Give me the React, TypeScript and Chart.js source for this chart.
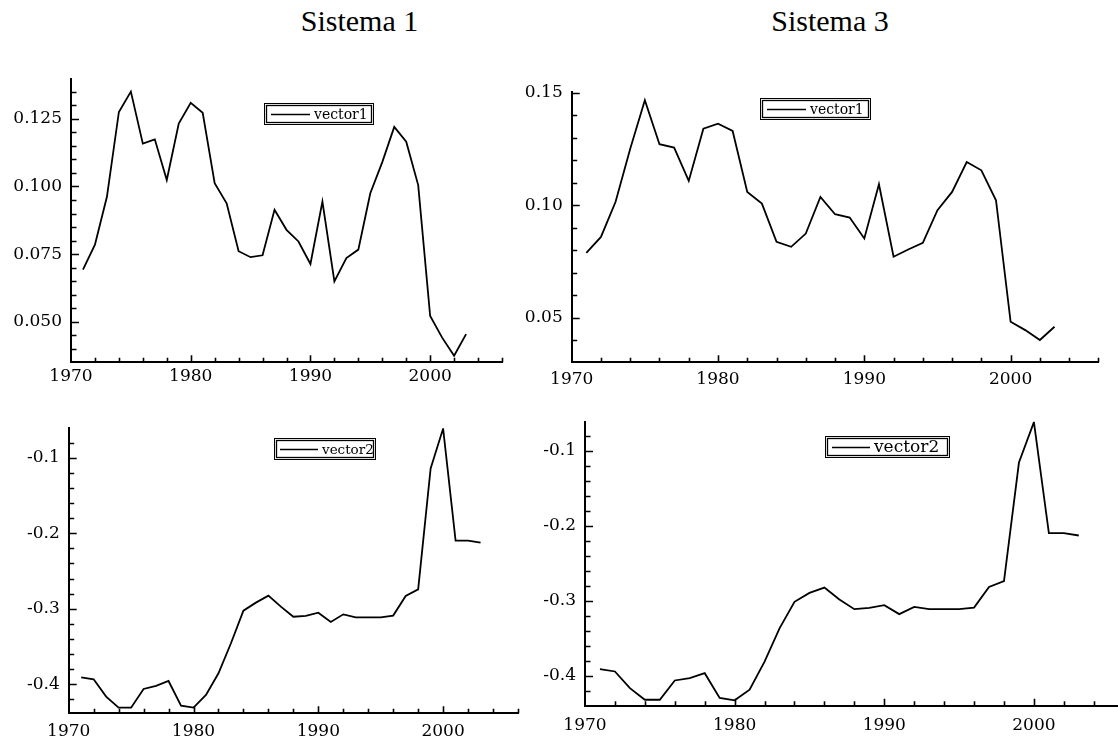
import React, { useEffect, useRef } from "react";
import { Chart, registerables } from "chart.js";

Chart.register(...registerables);

// ---------------- data ----------------
const years = [
  1971, 1972, 1973, 1974, 1975, 1976, 1977, 1978, 1979, 1980, 1981,
  1982, 1983, 1984, 1985, 1986, 1987, 1988, 1989, 1990, 1991, 1992,
  1993, 1994, 1995, 1996, 1997, 1998, 1999, 2000, 2001, 2002, 2003,
];

const sistema1Vector1 = [
  0.0693, 0.0785, 0.0962, 0.1275, 0.135, 0.1158, 0.1174, 0.1024, 0.1232, 0.1309, 0.1272,
  0.1012, 0.0938, 0.0761, 0.0739, 0.0746, 0.0914, 0.084, 0.0797, 0.0714, 0.0944, 0.065,
  0.0736, 0.0767, 0.0975, 0.109, 0.122, 0.1165, 0.1005, 0.0522, 0.0442, 0.0375, 0.0455,
];

const sistema3Vector1 = [
  0.0788, 0.0859, 0.1015, 0.1251, 0.1466, 0.1271, 0.1256, 0.1108, 0.134, 0.1362, 0.133,
  0.1059, 0.1007, 0.0837, 0.0815, 0.0874, 0.1037, 0.096, 0.0945, 0.0852, 0.1093, 0.0771,
  0.0803, 0.0833, 0.0978, 0.1059, 0.1192, 0.1155, 0.1022, 0.0482, 0.0445, 0.0401, 0.046,
];

const sistema1Vector2 = [
  -0.3907, -0.3934, -0.4163, -0.4309, -0.4309, -0.4062, -0.4022, -0.3956, -0.4282, -0.4309, -0.4141,
  -0.3854, -0.3457, -0.3025, -0.2919, -0.2827, -0.2972, -0.3106, -0.3095, -0.3052, -0.3175, -0.3074,
  -0.3113, -0.3113, -0.3113, -0.309, -0.2831, -0.2743, -0.1142, -0.0615, -0.2099, -0.2099, -0.2125,
];

const sistema3Vector2 = [
  -0.3912, -0.3942, -0.4164, -0.4319, -0.4319, -0.4062, -0.4031, -0.3965, -0.4296, -0.4327, -0.4186,
  -0.381, -0.3367, -0.3013, -0.2894, -0.2823, -0.2982, -0.3111, -0.3093, -0.3058, -0.3177, -0.308,
  -0.3111, -0.3111, -0.3111, -0.309, -0.2814, -0.2735, -0.1155, -0.0615, -0.2097, -0.2097, -0.2128,
];

const xLabelTicks = [1970, 1980, 1990, 2000];
const xMinorStep = 2;
const xRange = [1970, 2006];

const yLabelTicksS1V1 = [0.05, 0.075, 0.1, 0.125];
const yLabelTicksS3V1 = [0.05, 0.1, 0.15];
const yLabelTicksV2 = [-0.4, -0.3, -0.2, -0.1];

const titles = ["Sistema 1", "Sistema 3"];

// ---------------- plugins ----------------
function minorValues(min: number, max: number, step: number) {
  const out: number[] = [];
  const start = Math.ceil(min / step - 1e-9);
  const end = Math.floor(max / step + 1e-9);
  for (let i = start; i <= end; i++) out.push(Math.round(i * step * 1e6) / 1e6);
  return out;
}

const inwardTicks = {
  id: "inwardTicks",
  afterDraw(chart: any, _args: any, opts: any) {
    const { ctx, chartArea } = chart;
    const xs = chart.scales.x;
    const ys = chart.scales.y;
    ctx.save();
    ctx.strokeStyle = "#000";
    ctx.lineWidth = 1.6;
    ctx.beginPath();
    const xMajor: number[] = opts.xMajor;
    minorValues(xs.min, xs.max, opts.xStep).forEach((v) => {
      if (Math.abs(v - xs.min) < 1e-9) return;
      const isMajor = xMajor.some((m) => Math.abs(m - v) < 1e-9);
      const len = isMajor ? 7 : 4.5;
      const px = Math.round(xs.getPixelForValue(v)) + 0.5;
      ctx.moveTo(px, chartArea.bottom);
      ctx.lineTo(px, chartArea.bottom - len);
    });
    const yMajor: number[] = opts.yMajor;
    minorValues(ys.min, ys.max, opts.yStep).forEach((v) => {
      if (Math.abs(v - ys.min) < 1e-9) return;
      const isMajor = yMajor.some((m) => Math.abs(m - v) < 1e-9);
      const len = isMajor ? 8 : 5.5;
      const py = Math.round(ys.getPixelForValue(v)) + 0.5;
      ctx.moveTo(chartArea.left, py);
      ctx.lineTo(chartArea.left + len, py);
    });
    ctx.stroke();
    ctx.restore();
  },
};

const boxLegend = {
  id: "boxLegend",
  afterDraw(chart: any, _args: any, opts: any) {
    const { ctx, chartArea } = chart;
    const label = chart.data.datasets[0].label;
    const bx = Math.round(chartArea.left + opts.x);
    const by = Math.round(chartArea.top + opts.y);
    const w = Math.round(opts.w);
    const h = Math.round(opts.h);
    ctx.save();
    ctx.fillStyle = "#fff";
    ctx.fillRect(bx, by, w, h);
    ctx.strokeStyle = "#000";
    ctx.lineWidth = 1;
    ctx.strokeRect(bx + 0.5, by + 0.5, w - 1, h - 1);
    ctx.lineWidth = 1.3;
    ctx.strokeRect(bx + 2.5, by + 2.5, w - 5, h - 5);
    ctx.lineWidth = 1.5;
    ctx.beginPath();
    const ly = by + Math.round(h / 2) + 0.5;
    ctx.moveTo(bx + opts.lineStart, ly);
    ctx.lineTo(bx + opts.lineStart + opts.lineLen, ly);
    ctx.stroke();
    ctx.fillStyle = "#000";
    ctx.font = `${opts.font}px "DejaVu Serif"`;
    ctx.textBaseline = "middle";
    ctx.textAlign = "left";
    ctx.fillText(label, bx + opts.lineStart + opts.lineLen + 4, by + h / 2 + 1);
    ctx.restore();
  },
};

// ---------------- panels ----------------
type Panel = {
  label: string;
  values: number[];
  canvas: { left: number; top: number; width: number; height: number };
  area: { left: number; top: number; right: number; bottom: number };
  yMin: number;
  yMax: number;
  yLabels: number[];
  yStep: number;
  decimals: number;
  xPad: number;
  legend: { x: number; y: number; w: number; h: number; font: number; lineStart: number; lineLen: number };
};

const panels: Panel[] = [
  {
    label: "vector1",
    values: sistema1Vector1,
    canvas: { left: 0, top: 60, width: 530, height: 335 },
    area: { left: 71, top: 76.7, right: 502, bottom: 362.3 },
    yMin: 0.0351,
    yMax: 0.1396,
    yLabels: yLabelTicksS1V1,
    yStep: 0.005,
    decimals: 3,
    xPad: 4,
    legend: { x: 192.8, y: 24, w: 110, h: 22, font: 14, lineStart: 7, lineLen: 39 },
  },
  {
    label: "vector1",
    values: sistema3Vector1,
    canvas: { left: 505, top: 60, width: 613, height: 335 },
    area: { left: 571.7, top: 92, right: 1098.4, bottom: 362.3 },
    yMin: 0.0302,
    yMax: 0.1503,
    yLabels: yLabelTicksS3V1,
    yStep: 0.01,
    decimals: 2,
    xPad: 7,
    legend: { x: 188.7, y: 6.3, w: 111, h: 22, font: 14, lineStart: 7, lineLen: 39 },
  },
  {
    label: "vector2",
    values: sistema1Vector2,
    canvas: { left: 0, top: 400, width: 530, height: 346 },
    area: { left: 68.7, top: 428.3, right: 518, bottom: 713.3 },
    yMin: -0.4384,
    yMax: -0.0611,
    yLabels: yLabelTicksV2,
    yStep: 0.02,
    decimals: 1,
    xPad: 8,
    legend: { x: 205.3, y: 10, w: 102, h: 22, font: 13.5, lineStart: 6, lineLen: 38 },
  },
  {
    label: "vector2",
    values: sistema3Vector2,
    canvas: { left: 525, top: 400, width: 615, height: 346 },
    area: { left: 585, top: 421.7, right: 1123.7, bottom: 705.8 },
    yMin: -0.44,
    yMax: -0.061,
    yLabels: yLabelTicksV2,
    yStep: 0.02,
    decimals: 1,
    xPad: 10,
    legend: { x: 239.6, y: 14, w: 125, h: 22, font: 17, lineStart: 7, lineLen: 38 },
  },
];

const tickFont = { family: '"DejaVu Serif"', size: 17 };

function PanelChart({ p }: { p: Panel }) {
  const ref = useRef<HTMLCanvasElement | null>(null);
  useEffect(() => {
    if (!ref.current) return;
    const c = p.canvas;
    const a = p.area;
    const chart = new Chart(ref.current, {
      type: "line",
      data: {
        datasets: [
          {
            label: p.label,
            data: years.map((y, i) => ({ x: y, y: p.values[i] })),
            borderColor: "#000",
            borderWidth: 1.8,
            pointRadius: 0,
            tension: 0,
            fill: false,
          },
        ],
      },
      options: {
        animation: false,
        responsive: false,
        devicePixelRatio: 1,
        layout: {
          padding: {
            left: 0,
            top: a.top - c.top,
            right: c.left + c.width - a.right,
            bottom: 0,
          },
        },
        plugins: {
          legend: { display: false },
          tooltip: { enabled: false },
          inwardTicks: { xMajor: xLabelTicks, xStep: xMinorStep, yMajor: p.yLabels, yStep: p.yStep },
          boxLegend: p.legend,
        } as any,
        scales: {
          x: {
            type: "linear",
            min: xRange[0],
            max: xRange[1],
            grid: { display: false, drawTicks: false },
            border: { display: true, color: "#000", width: 2 },
            ticks: {
              color: "#000",
              font: tickFont,
              padding: p.xPad,
              autoSkip: false,
              maxRotation: 0,
              callback: (v: any) => String(v),
            },
            afterBuildTicks: (axis: any) => {
              axis.ticks = xLabelTicks.map((v) => ({ value: v }));
            },
            afterFit: (axis: any) => {
              axis.height = c.top + c.height - a.bottom;
            },
          },
          y: {
            type: "linear",
            min: p.yMin,
            max: p.yMax,
            grid: { display: false, drawTicks: false },
            border: { display: true, color: "#000", width: 2 },
            ticks: {
              color: "#000",
              font: tickFont,
              padding: 9,
              autoSkip: false,
              callback: (v: any) => Number(v).toFixed(p.decimals),
            },
            afterBuildTicks: (axis: any) => {
              axis.ticks = p.yLabels.map((v) => ({ value: v }));
            },
            afterFit: (axis: any) => {
              axis.width = a.left - c.left;
            },
          },
        },
      },
      plugins: [inwardTicks, boxLegend],
    });
    return () => chart.destroy();
  }, [p]);
  return (
    <canvas
      ref={ref}
      width={p.canvas.width}
      height={p.canvas.height}
      style={{
        position: "absolute",
        left: p.canvas.left,
        top: p.canvas.top,
        width: p.canvas.width,
        height: p.canvas.height,
      }}
    />
  );
}

export default function App() {
  return (
    <div
      style={{
        position: "fixed",
        left: 0,
        top: 0,
        width: 1118,
        height: 746,
        overflow: "hidden",
        background: "#fff",
      }}
    >
      {titles.map((t, i) => (
        <div
          key={t}
          style={{
            position: "absolute",
            left: i === 0 ? 259.5 : 730,
            width: 200,
            top: 6,
            textAlign: "center",
            fontFamily: '"Liberation Serif", serif',
            fontSize: 30,
            lineHeight: "30px",
            color: "#000",
            whiteSpace: "nowrap",
          }}
        >
          {t}
        </div>
      ))}
      {panels.map((p, i) => (
        <PanelChart key={i} p={p} />
      ))}
    </div>
  );
}
